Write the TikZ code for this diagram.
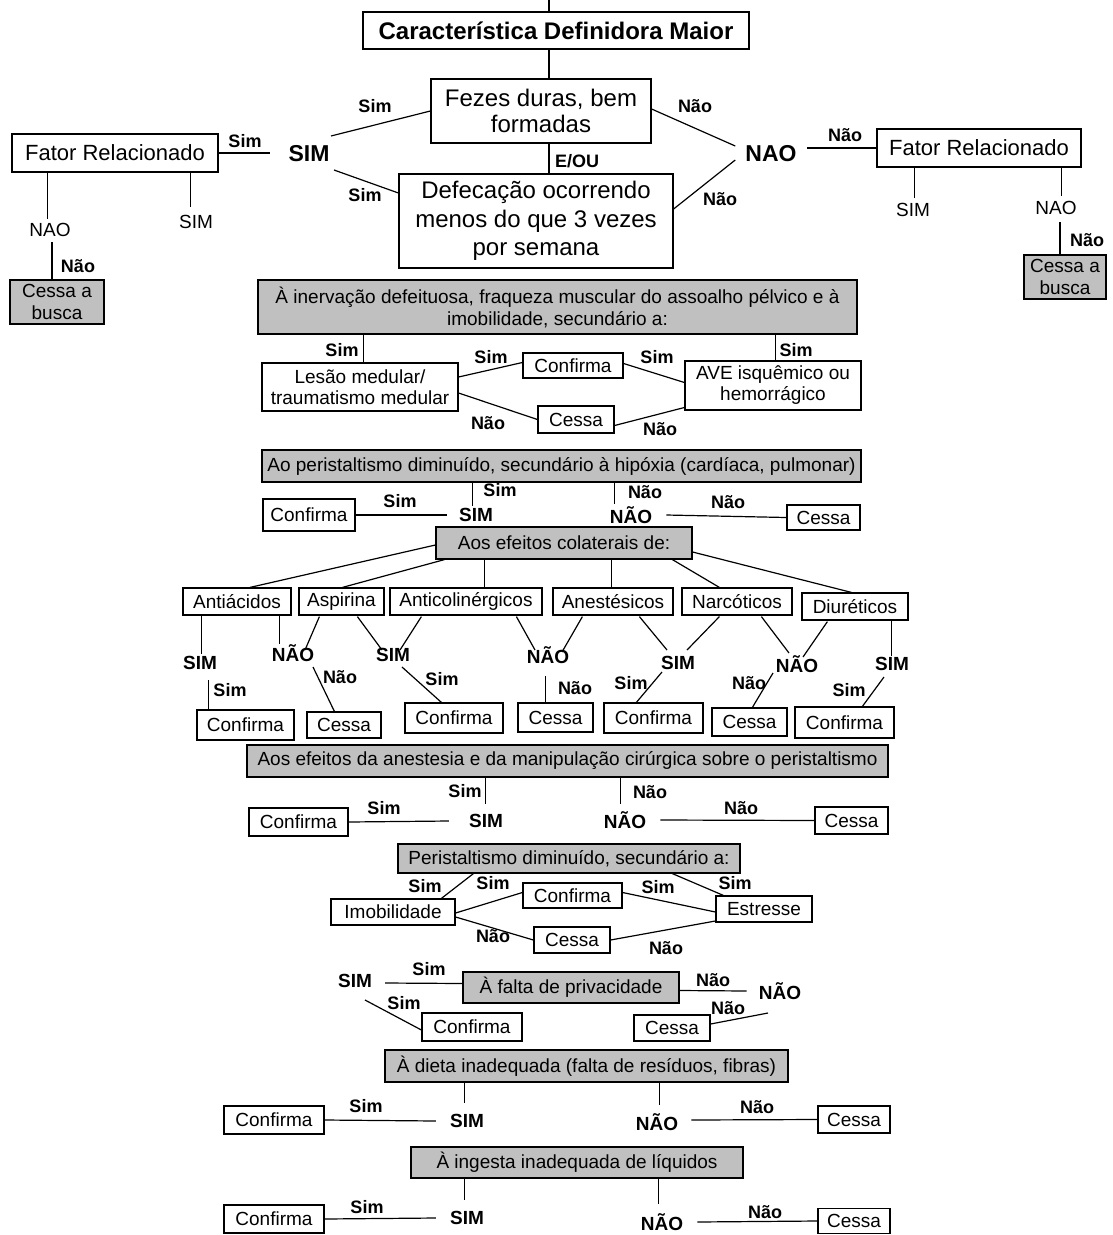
\documentclass[tikz,border=0pt]{standalone}
\usepackage{fontspec}
\setmainfont{Liberation Sans}
\usetikzlibrary{calc}
\definecolor{boxgray}{RGB}{192,192,192}
\begin{document}
\begin{tikzpicture}[x=1pt,y=-1pt,
  box/.style={draw, line width=1.2pt, fill=white, inner sep=0pt, align=center, font=\fontsize{19}{22}\selectfont},
  gbox/.style={box, fill=boxgray},
  lab/.style={inner sep=0pt, font=\bfseries\fontsize{18}{20}\selectfont},
  mid/.style={inner sep=0pt, font=\bfseries\fontsize{19}{21}\selectfont},
  big/.style={inner sep=0pt, font=\bfseries\fontsize{23}{25}\selectfont},
  reg/.style={inner sep=0pt, font=\fontsize{19}{21}\selectfont},
  conn/.style={line width=1.2pt}]
\useasboundingbox (0,0) rectangle (1113,1235);

% ---------- top ----------
\coordinate (top) at (549,0);
\node[box, font=\bfseries\fontsize{24}{28}\selectfont, minimum width=386pt, minimum height=37pt] (title) at (556,30.5) {Característica Definidora Maior};
\node[box, font=\fontsize{24}{26}\selectfont, minimum width=220pt, minimum height=64pt] (fezes) at (541,111) {Fezes duras, bem\\formadas};
\node[box, font=\fontsize{24}{28.5}\selectfont, minimum width=274pt, minimum height=94pt] (defec) at (536,221) {Defecação ocorrendo\\menos do que 3 vezes\\por semana};
\node[lab] (eou) at (577,161) {E/OU};
\node[big] (sim0) at (309,154) {SIM};
\node[big] (nao0) at (771,154) {NAO};
\node[lab] (l1) at (375,106) {Sim};
\node[lab] (l2) at (365,195) {Sim};
\node[lab] (l3) at (245,141) {Sim};
\node[lab] (l4) at (695,106) {Não};
\node[lab] (l5) at (720,199) {Não};
\node[lab] (l6) at (845,135) {Não};
\node[box, font=\fontsize{22}{24}\selectfont, minimum width=206pt, minimum height=38pt] (fatorL) at (115,153) {Fator Relacionado};
\node[box, font=\fontsize{22}{24}\selectfont, minimum width=204pt, minimum height=38pt] (fatorR) at (979,148) {Fator Relacionado};
\node[reg] (naoL) at (50,230) {NAO};
\node[reg] (simL) at (196,222) {SIM};
\node[reg] (simR) at (913,210) {SIM};
\node[reg] (naoR) at (1056,208) {NAO};
\node[lab] (l7) at (78,266) {Não};
\node[lab] (l8) at (1087,240) {Não};
\node[gbox, minimum width=94pt, minimum height=44pt] (cessaL) at (57,302) {Cessa a\\busca};
\node[gbox, minimum width=82pt, minimum height=44pt] (cessaR) at (1065,277) {Cessa a\\busca};

\draw[conn] (top) -- (top |- title.north);
\draw[conn] (title.south -| top) -- (fezes.north -| top);
\draw[conn] (fezes.south -| top) -- (defec.north -| top);
\draw[conn] ($(sim0)+(22,-18)$) -- (fezes.west);
\draw[conn] ($(sim0)+(25,16)$) -- ($(defec.west)+(0,-28)$);
\draw[conn] (fatorL.east) -- ($(sim0.west)+(-18,-1)$);
\draw[conn] ($(fezes.east)+(0,-2)$) -- ($(nao0.west)+(-10,-8)$);
\draw[conn] ($(defec.east)+(0,-12)$) -- ($(nao0.west)+(-10,6)$);
\draw[conn] ($(fatorR.west)+(-69,0)$) -- (fatorR.west);
\draw[conn] ($(fatorL.south west)+(36,0)$) -- +(0,46);
\draw[conn] ($(cessaL.north)+(-5,0)$) -- +(0,-37);
\draw[conn] ($(fatorL.south west)+(179,0)$) -- +(0,34);
\draw[conn] ($(fatorR.south west)+(38,0)$) -- +(0,30);
\draw[conn] ($(fatorR.south west)+(185,0)$) -- +(0,28);
\draw[conn] ($(cessaR.north)+(-5,0)$) -- +(0,-32);

% ---------- G1 ----------
\node[gbox, minimum width=599pt, minimum height=54pt] (g1) at (557.5,307) {À inervação defeituosa, fraqueza muscular do assoalho pélvico e à\\imobilidade, secundário a:};
\node[box, font=\fontsize{19}{21}\selectfont, minimum width=196pt, minimum height=48pt] (lesao) at (360,387) {Lesão medular/\\traumatismo medular};
\node[box, font=\fontsize{19}{21}\selectfont, minimum width=176pt, minimum height=49pt] (ave) at (773,385.5) {AVE isquêmico ou\\hemorrágico};
\node[box, minimum width=100pt, minimum height=25pt] (conf1) at (573,365.5) {Confirma};
\node[box, minimum width=76pt, minimum height=27pt] (cess1) at (576,419.5) {Cessa};
\draw[conn] ($(g1.south west)+(106,0)$) -- ($(lesao.north west)+(102,0)$);
\draw[conn] ($(g1.south west)+(518,0)$) -- ($(ave.north west)+(91,0)$);
\draw[conn] ($(lesao.east)+(0,-10)$) -- ($(conf1.west)+(0,-3)$);
\draw[conn] ($(lesao.east)+(0,6)$) -- (cess1.west);
\draw[conn] ($(conf1.east)+(0,-2)$) -- ($(ave.west)+(0,-3)$);
\draw[conn] ($(cess1.east)+(0,6)$) -- ($(ave.west)+(0,22)$);
\node[lab] at (342,350) {Sim};
\node[lab] at (796,350) {Sim};
\node[lab] at (491,357) {Sim};
\node[lab] at (657,357) {Sim};
\node[lab] at (488,423) {Não};
\node[lab] at (660,429) {Não};

% ---------- G2 ----------
\node[gbox, minimum width=599pt, minimum height=32pt] (g2) at (561.5,466) {Ao peristaltismo diminuído, secundário à hipóxia (cardíaca, pulmonar)};
\node[box, minimum width=92pt, minimum height=32pt] (conf2) at (309,515) {Confirma};
\node[box, minimum width=73pt, minimum height=25pt] (cess2) at (823.5,517.5) {Cessa};
\node[mid] (sim2) at (476,515) {SIM};
\node[mid] (nao2) at (631,515) {NÃO};
\node[lab] at (500,490) {Sim};
\node[lab] at (645,492) {Não};
\node[lab] at (400,501) {Sim};
\node[lab] at (728,502) {Não};
\draw[conn] ($(g2.south west)+(211,0)$) -- +(0,23);
\draw[conn] ($(g2.south west)+(353,0)$) -- +(0,21);
\draw[conn] (conf2.east) -- ($(sim2.west)+(-12,0)$);
\draw[conn] ($(nao2.east)+(14,0)$) -- (cess2.west);

% ---------- G3 ----------
\node[gbox, minimum width=256pt, minimum height=32pt] (g3) at (564,543) {Aos efeitos colaterais de:};
\node[box, minimum width=108pt, minimum height=27pt] (antia) at (237,601.5) {Antiácidos};
\node[box, minimum width=85pt, minimum height=27pt] (aspi) at (341.5,601.5) {Aspirina};
\node[box, minimum width=152pt, minimum height=27pt] (antic) at (466,601.5) {Anticolinérgicos};
\node[box, minimum width=120pt, minimum height=27pt] (anest) at (613,601.5) {Anestésicos};
\node[box, minimum width=110pt, minimum height=27pt] (narc) at (737,601.5) {Narcóticos};
\node[box, minimum width=106pt, minimum height=27pt] (diur) at (855,606.5) {Diuréticos};
\draw[conn] ($(g3.west)+(0,2)$) -- ($(antia.north)+(13,0)$);
\draw[conn] ($(g3.south west)+(9,0)$) -- ($(aspi.north)+(1,0)$);
\draw[conn] ($(g3.south west)+(49,0)$) -- ($(antic.north west)+(95,0)$);
\draw[conn] ($(g3.south west)+(176,0)$) -- ($(anest.north west)+(59,0)$);
\draw[conn] ($(g3.south west)+(237,0)$) -- ($(narc.north west)+(38,0)$);
\draw[conn] ($(g3.east)+(0,9)$) -- ($(diur.north west)+(50,0)$);

\node[mid] (simA) at (200,663) {SIM};
\node[mid] (naoA) at (293,653) {NÃO};
\node[mid] (simB) at (393,655) {SIM};
\node[mid] (naoB) at (548,655) {NÃO};
\node[mid] (simC) at (678,663) {SIM};
\node[mid] (naoC) at (797,664) {NÃO};
\node[mid] (simD) at (892,664) {SIM};
\draw[conn] ($(antia.south west)+(19,0)$) -- +(0,38);
\draw[conn] ($(antia.south west)+(97,0)$) -- +(0,28);
\draw[conn] ($(aspi.south west)+(21,1)$) -- ($(naoA)+(12,-3)$);
\draw[conn] ($(aspi.south west)+(59,1)$) -- ($(simB)+(-11,-5)$);
\draw[conn] ($(antic.south west)+(32,1)$) -- ($(simB)+(7,-5)$);
\draw[conn] ($(antic.south west)+(127,1)$) -- ($(naoB)+(-13,-5)$);
\draw[conn] ($(anest.south west)+(30,1)$) -- ($(naoB)+(14,-3)$);
\draw[conn] ($(anest.south west)+(87,1)$) -- ($(simC)+(-11,-13)$);
\draw[conn] ($(narc.south west)+(38,1)$) -- ($(simC)+(9,-13)$);
\draw[conn] ($(narc.south west)+(80,1)$) -- ($(naoC)+(-8,-11)$);
\draw[conn] ($(diur.south west)+(26,1)$) -- ($(naoC)+(6,-7)$);
\draw[conn] ($(diur.south west)+(90,0)$) -- +(0,35);

\node[box, minimum width=97pt, minimum height=30pt] (confA) at (245.5,725) {Confirma};
\node[box, minimum width=74pt, minimum height=26pt] (cessA) at (344,725) {Cessa};
\node[box, minimum width=98pt, minimum height=30pt] (confB) at (454,718) {Confirma};
\node[box, minimum width=75pt, minimum height=29pt] (cessB) at (555.5,717.5) {Cessa};
\node[box, minimum width=99pt, minimum height=30pt] (confC) at (653.5,718) {Confirma};
\node[box, minimum width=75pt, minimum height=28pt] (cessC) at (749.5,722) {Cessa};
\node[box, minimum width=99pt, minimum height=31pt] (confD) at (844.5,722.5) {Confirma};
\draw[conn] ($(confA.north west)+(12,0)$) -- +(0,-29);
\draw[conn] ($(naoA)+(20,14)$) -- ($(cessA.north west)+(28,0)$);
\draw[conn] ($(simB)+(9,12)$) -- ($(confB.north west)+(37,0)$);
\draw[conn] ($(cessB.north west)+(28,0)$) -- +(0,-26);
\draw[conn] ($(simC)+(-16,9)$) -- ($(confC.north west)+(33,0)$);
\draw[conn] ($(naoC)+(-24,9)$) -- ($(cessC.north west)+(41,0)$);
\draw[conn] ($(simD)+(-8,13)$) -- ($(confD.north west)+(68,0)$);
\node[lab] at (230,690) {Sim};
\node[lab] at (340,677) {Não};
\node[lab] at (442,679) {Sim};
\node[lab] at (575,688) {Não};
\node[lab] at (631,683) {Sim};
\node[lab] at (749,683) {Não};
\node[lab] at (849,690) {Sim};

% ---------- G4 ----------
\node[gbox, minimum width=641pt, minimum height=32pt] (g4) at (567.5,761) {Aos efeitos da anestesia e da manipulação cirúrgica sobre o peristaltismo};
\node[box, minimum width=99pt, minimum height=28pt] (conf4) at (298.5,822) {Confirma};
\node[box, minimum width=73pt, minimum height=27pt] (cess4) at (851.5,820.5) {Cessa};
\node[mid] (sim4) at (486,821) {SIM};
\node[mid] (nao4) at (625,820) {NÃO};
\node[lab] at (465,791) {Sim};
\node[lab] at (650,792) {Não};
\node[lab] at (384,808) {Sim};
\node[lab] at (741,808) {Não};
\draw[conn] ($(g4.south west)+(239,0)$) -- +(0,26);
\draw[conn] ($(g4.south west)+(374,0)$) -- +(0,26);
\draw[conn] (conf4.east) -- ($(sim4.west)+(-20,0)$);
\draw[conn] ($(nao4.east)+(14,0)$) -- (cess4.west);

% ---------- G5 ----------
\node[gbox, minimum width=342pt, minimum height=29pt] (g5) at (569,858.5) {Peristaltismo diminuído, secundário a:};
\node[box, minimum width=124pt, minimum height=26pt] (imob) at (393,912) {Imobilidade};
\node[box, minimum width=99pt, minimum height=25pt] (conf5) at (572.5,895.5) {Confirma};
\node[box, minimum width=76pt, minimum height=26pt] (cess5) at (572,940) {Cessa};
\node[box, minimum width=96pt, minimum height=26pt] (estr) at (764,909) {Estresse};
\draw[conn] ($(g5.south west)+(76,0)$) -- ($(imob.north west)+(111,0)$);
\draw[conn] ($(g5.south west)+(275,0)$) -- ($(estr.north west)+(8,0)$);
\draw[conn] ($(imob.east)+(0,1)$) -- ($(conf5.west)+(0,-3)$);
\draw[conn] ($(imob.east)+(0,5)$) -- (cess5.west);
\draw[conn] ($(conf5.east)+(0,-3)$) -- ($(estr.west)+(0,3)$);
\draw[conn] (cess5.east) -- ($(estr.west)+(0,12)$);
\node[lab] at (425,886) {Sim};
\node[lab] at (493,883) {Sim};
\node[lab] at (735,883) {Sim};
\node[lab] at (493,936) {Não};
\node[lab] at (658,887) {Sim};
\node[lab] at (666,948) {Não};

% ---------- G6 ----------
\node[gbox, minimum width=216pt, minimum height=31pt] (g6) at (571,987.5) {À falta de privacidade};
\node[mid] (sim6) at (355,981) {SIM};
\node[mid] (nao6) at (780,991) {NÃO};
\node[box, minimum width=100pt, minimum height=28pt] (conf6) at (472,1027) {Confirma};
\node[box, minimum width=76pt, minimum height=26pt] (cess6) at (672,1028) {Cessa};
\draw[conn] ($(g6.west)+(0,-4)$) -- ($(sim6.east)+(13,2)$);
\draw[conn] ($(sim6)+(10,19)$) -- ($(conf6.west)+(0,3)$);
\draw[conn] ($(g6.east)+(0,3)$) -- ($(nao6.west)+(-12,0)$);
\draw[conn] ($(nao6)+(-12,22)$) -- ($(cess6.east)+(0,-4)$);
\node[lab] at (429,969) {Sim};
\node[lab] at (404,1003) {Sim};
\node[lab] at (713,980) {Não};
\node[lab] at (728,1008) {Não};

% ---------- G7 ----------
\node[gbox, minimum width=403pt, minimum height=32pt] (g7) at (586.5,1066) {À dieta inadequada (falta de resíduos, fibras)};
\node[mid] (sim7) at (467,1121) {SIM};
\node[mid] (nao7) at (657,1122) {NÃO};
\node[box, minimum width=100pt, minimum height=28pt] (conf7) at (274,1120) {Confirma};
\node[box, minimum width=72pt, minimum height=27pt] (cess7) at (854,1119.5) {Cessa};
\draw[conn] ($(g7.south west)+(80,0)$) -- +(0,20);
\draw[conn] ($(g7.south west)+(275,0)$) -- +(0,22);
\draw[conn] (conf7.east) -- ($(sim7.west)+(-14,0)$);
\draw[conn] ($(nao7.east)+(13,-2)$) -- (cess7.west);
\node[lab] at (366,1106) {Sim};
\node[lab] at (757,1107) {Não};

% ---------- G8 ----------
\node[gbox, minimum width=332pt, minimum height=31pt] (g8) at (577,1162.5) {À ingesta inadequada de líquidos};
\node[mid] (sim8) at (467,1218) {SIM};
\node[mid] (nao8) at (662,1222) {NÃO};
\node[box, minimum width=100pt, minimum height=28pt] (conf8) at (274,1219) {Confirma};
\node[box, minimum width=72pt, minimum height=25pt] (cess8) at (854,1221) {Cessa};
\draw[conn] ($(g8.south west)+(54,0)$) -- +(0,21);
\draw[conn] ($(g8.south west)+(248,0)$) -- +(0,25);
\draw[conn] (conf8.east) -- ($(sim8.west)+(-14,0)$);
\draw[conn] ($(nao8.east)+(14,0)$) -- (cess8.west);
\node[lab] at (367,1207) {Sim};
\node[lab] at (765,1212) {Não};
\end{tikzpicture}
\end{document}
